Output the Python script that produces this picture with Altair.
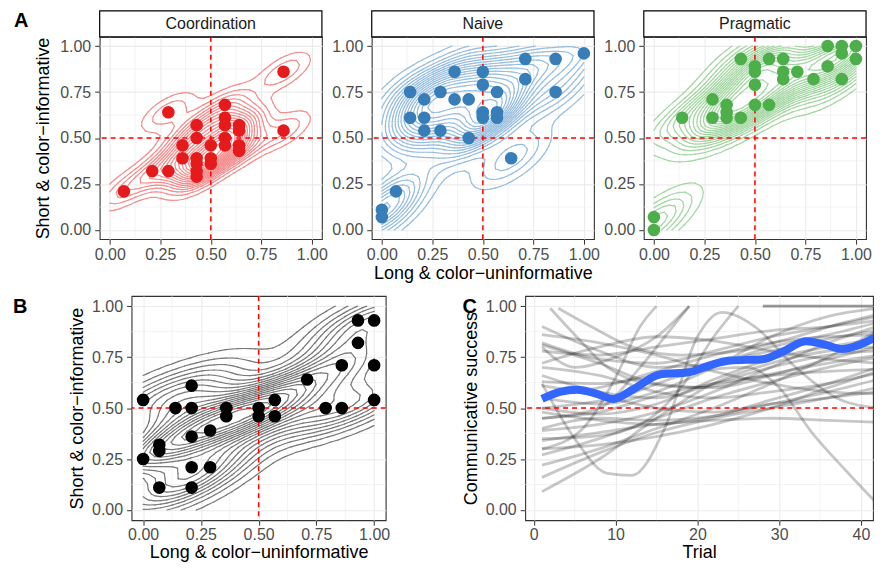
import numpy as np
import pandas as pd
import altair as alt

FONT = "Liberation Sans"
TICKS01 = [0, 0.25, 0.5, 0.75, 1.0]
MINOR01 = [0.125, 0.375, 0.625, 0.875]
TICKS_TRIAL = [0, 10, 20, 30, 40]
MINOR_TRIAL = [5, 15, 25, 35]

# ---------------- Panel A: per-condition points ----------------
coord_x = [0.07, 0.21, 0.29, 0.29, 0.36, 0.36, 0.43, 0.43, 0.43, 0.43, 0.43, 0.43, 0.50, 0.50, 0.50,
           0.57, 0.57, 0.57, 0.57, 0.57, 0.64, 0.64, 0.64, 0.64, 0.86, 0.86]
coord_y = [0.21, 0.32, 0.32, 0.64, 0.46, 0.39, 0.57, 0.50, 0.39, 0.36, 0.32, 0.29, 0.46, 0.39, 0.36,
           0.68, 0.61, 0.57, 0.50, 0.46, 0.57, 0.54, 0.46, 0.43, 0.86, 0.54]

naive_x = [0.00, 0.00, 0.07, 0.14, 0.14, 0.21, 0.21, 0.21, 0.29, 0.29, 0.36, 0.36, 0.43, 0.43, 0.50,
           0.50, 0.50, 0.50, 0.57, 0.57, 0.57, 0.64, 0.71, 0.71, 0.86, 0.86, 1.00]
naive_y = [0.11, 0.07, 0.21, 0.75, 0.61, 0.71, 0.61, 0.54, 0.75, 0.54, 0.86, 0.71, 0.71, 0.50, 0.86,
           0.79, 0.64, 0.61, 0.75, 0.64, 0.61, 0.39, 0.93, 0.82, 0.93, 0.75, 0.96]

prag_x = [0.00, 0.00, 0.14, 0.29, 0.29, 0.36, 0.36, 0.36, 0.43, 0.43, 0.50, 0.50, 0.50, 0.50, 0.57,
          0.57, 0.64, 0.64, 0.64, 0.71, 0.79, 0.86, 0.86, 0.93, 0.93, 0.93, 1.00, 1.00]
prag_y = [0.07, 0.00, 0.61, 0.71, 0.61, 0.68, 0.64, 0.61, 0.61, 0.93, 0.89, 0.86, 0.79, 0.68, 0.93,
          0.68, 0.93, 0.86, 0.82, 0.86, 0.82, 1.00, 0.89, 1.00, 0.96, 0.82, 1.00, 0.93]

# ---------------- Panel B: pooled points ----------------
b_x = [0.00, 0.00, 0.07, 0.07, 0.07, 0.14, 0.21, 0.21, 0.21, 0.21, 0.21, 0.29, 0.29, 0.36, 0.36,
       0.50, 0.50, 0.57, 0.57, 0.71, 0.79, 0.86, 0.86, 0.93, 0.93, 1.00, 1.00, 1.00]
b_y = [0.54, 0.25, 0.32, 0.29, 0.11, 0.50, 0.61, 0.50, 0.36, 0.21, 0.11, 0.39, 0.21, 0.50, 0.46,
       0.50, 0.46, 0.54, 0.46, 0.64, 0.50, 0.50, 0.71, 0.93, 0.82, 0.93, 0.71, 0.54]

# ---------------- Panel C: per-pair smooths and overall smooth ----------------
T7 = [1, 8, 15, 22, 29, 36, 42]
grey_lines = [
    (T7, [0.90, 0.78, 0.70, 0.72, 0.80, 0.86, 0.92]),
    (T7, [0.82, 0.74, 0.72, 0.78, 0.85, 0.90, 0.95]),
    (T7, [0.81, 0.72, 0.62, 0.60, 0.66, 0.74, 0.80]),
    (T7, [0.78, 0.76, 0.80, 0.84, 0.88, 0.90, 0.93]),
    (T7, [0.70, 0.66, 0.58, 0.55, 0.58, 0.62, 0.67]),
    (T7, [0.63, 0.62, 0.66, 0.72, 0.78, 0.84, 0.88]),
    (T7, [0.61, 0.56, 0.50, 0.48, 0.52, 0.55, 0.58]),
    (T7, [0.56, 0.60, 0.68, 0.76, 0.82, 0.85, 0.86]),
    (T7, [0.45, 0.48, 0.56, 0.62, 0.66, 0.68, 0.69]),
    (T7, [0.40, 0.45, 0.44, 0.46, 0.52, 0.58, 0.64]),
    (T7, [0.39, 0.42, 0.48, 0.58, 0.70, 0.82, 0.90]),
    (T7, [0.34, 0.38, 0.42, 0.44, 0.45, 0.44, 0.43]),
    (T7, [0.27, 0.35, 0.45, 0.55, 0.63, 0.70, 0.75]),
    (T7, [0.22, 0.30, 0.40, 0.50, 0.62, 0.75, 0.88]),
    (T7, [0.16, 0.28, 0.38, 0.45, 0.50, 0.55, 0.60]),
    (T7, [0.09, 0.25, 0.45, 0.62, 0.72, 0.78, 0.80]),
    (T7, [0.55, 0.52, 0.58, 0.70, 0.85, 0.95, 0.99]),
    (T7, [0.72, 0.80, 0.85, 0.83, 0.78, 0.74, 0.72]),
    (T7, [0.48, 0.44, 0.42, 0.46, 0.54, 0.62, 0.70]),
    (T7, [0.30, 0.32, 0.36, 0.42, 0.50, 0.60, 0.68]),
    (T7, [0.86, 0.82, 0.76, 0.68, 0.62, 0.58, 0.57]),
    (T7, [0.50, 0.47, 0.52, 0.64, 0.74, 0.80, 0.84]),
    (T7, [0.66, 0.58, 0.55, 0.62, 0.70, 0.76, 0.78]),
    ([1, 5, 9, 12, 16, 20, 23, 27, 32, 37, 42], [0.62, 0.35, 0.18, 0.17, 0.40, 0.85, 0.97, 0.90, 0.70, 0.55, 0.50]),
    ([1, 10, 20, 26, 30, 34, 38, 42], [0.50, 0.55, 0.68, 0.70, 0.60, 0.38, 0.20, 0.03]),
    ([2, 5, 9, 14, 20, 28, 36, 42], [0.99, 0.86, 0.70, 0.62, 0.60, 0.66, 0.72, 0.76]),
    ([3, 7, 12, 18, 25, 32, 38, 42], [0.99, 0.90, 0.80, 0.76, 0.78, 0.85, 0.92, 0.96]),
    ([1, 6, 10, 13, 15], [0.30, 0.40, 0.65, 0.90, 1.00]),
    ([1, 8, 13, 17, 19], [0.45, 0.50, 0.70, 0.90, 1.00]),
    ([1, 5, 10, 15, 19], [0.80, 0.70, 0.75, 0.85, 1.00]),
    ([1, 7, 13, 18, 22, 25], [0.35, 0.36, 0.42, 0.60, 0.85, 1.00]),
    ([28, 35, 42], [1.00, 1.00, 1.00]),
    ([28, 35, 42], [1.00, 1.00, 1.00]),
]
blue_trial = [1, 3.2, 5.3, 7.7, 9.7, 12.2, 15.4, 19, 21.5, 24, 28, 30.4, 33.3, 35.7, 37.7, 39.8, 42]
blue_value = [0.545, 0.58, 0.59, 0.57, 0.545, 0.593, 0.665, 0.676, 0.71, 0.733, 0.74, 0.776, 0.828,
              0.81, 0.79, 0.81, 0.852]


# ---------------- helpers ----------------
def density(xs, ys, n=40, factor=0.5):
    """Gaussian KDE with a full bandwidth matrix proportional to the data covariance."""
    g = np.linspace(0, 1, n)
    pts = np.vstack([np.asarray(xs, float), np.asarray(ys, float)])
    cov = np.cov(pts) * factor ** 2
    inv = np.linalg.inv(cov)
    GX, GY = np.meshgrid(g, g)
    dx = GX[..., None] - pts[0][None, None, :]
    dy = GY[..., None] - pts[1][None, None, :]
    q = inv[0, 0] * dx * dx + 2 * inv[0, 1] * dx * dy + inv[1, 1] * dy * dy
    Z = np.exp(-0.5 * q).sum(axis=-1)
    return g, g, Z


def contour_segments(gx, gy, Z, levels):
    rows = []
    ny, nx = Z.shape
    for L in levels:
        for j in range(ny - 1):
            for i in range(nx - 1):
                c = [Z[j, i], Z[j, i + 1], Z[j + 1, i + 1], Z[j + 1, i]]
                s = [v >= L for v in c]
                if all(s) or not any(s):
                    continue
                corners = [(gx[i], gy[j]), (gx[i + 1], gy[j]), (gx[i + 1], gy[j + 1]), (gx[i], gy[j + 1])]
                pts = {}
                for e in range(4):
                    a, b = e, (e + 1) % 4
                    if s[a] != s[b]:
                        t = (L - c[a]) / (c[b] - c[a])
                        pts[e] = (corners[a][0] + t * (corners[b][0] - corners[a][0]),
                                  corners[a][1] + t * (corners[b][1] - corners[a][1]))
                keys = sorted(pts)
                if len(keys) == 2:
                    pairs = [(keys[0], keys[1])]
                else:
                    center = sum(c) / 4
                    if (center >= L) == s[0]:
                        pairs = [(0, 1), (2, 3)]
                    else:
                        pairs = [(3, 0), (1, 2)]
                for a, b in pairs:
                    rows.append((round(pts[a][0], 4), round(pts[a][1], 4),
                                 round(pts[b][0], 4), round(pts[b][1], 4)))
    return pd.DataFrame(rows, columns=["x", "y", "x2", "y2"])


def make_axis(title, values, fmt, label_pad=1, title_pad=1):
    return alt.Axis(title=title, values=values, format=fmt, grid=True, gridColor="#EBEBEB", gridWidth=1.1,
                    domain=False, ticks=True, tickColor="#333333", tickSize=5, tickWidth=1,
                    labelColor="#4D4D4D", labelFontSize=16, labelFont=FONT, labelPadding=label_pad,
                    labelFlush=False, labelOverlap=False, titleFont=FONT, titleFontSize=18,
                    titleFontWeight="normal", titleColor="black", titlePadding=title_pad)


def letter_layer(letter, lx, ly):
    return alt.Chart(pd.DataFrame({"t": [letter]})).mark_text(
        font=FONT, fontSize=20, fontWeight="bold", align="left", baseline="top", color="black"
    ).encode(x=alt.value(lx), y=alt.value(ly), text="t:N")


def scatter_panel(xs, ys, pt_color, ct_color, w, h, xtitle, ytitle, strip=None, letter=None,
                  x_label_pad=2, x_title_pad=2, y_title_pad=5, factor=0.5):
    X = alt.X("x:Q", scale=alt.Scale(domain=[-0.05, 1.05], nice=False, zero=False),
              axis=make_axis(xtitle, TICKS01, ".2f", label_pad=x_label_pad, title_pad=x_title_pad))
    Y = alt.Y("y:Q", scale=alt.Scale(domain=[-0.05, 1.05], nice=False, zero=False),
              axis=make_axis(ytitle, TICKS01, ".2f", label_pad=4, title_pad=y_title_pad))
    gx, gy, Z = density(xs, ys, factor=factor)
    levels = Z.max() * np.linspace(0.05, 0.95, 18)
    segs = contour_segments(gx, gy, Z, levels)
    layers = [
        alt.Chart(pd.DataFrame({"x": MINOR01})).mark_rule(color="#EBEBEB", strokeWidth=0.6).encode(x=X),
        alt.Chart(pd.DataFrame({"y": MINOR01})).mark_rule(color="#EBEBEB", strokeWidth=0.6).encode(y=Y),
        alt.Chart(segs).mark_rule(color=ct_color, strokeWidth=1.2, strokeCap="round").encode(
            x=X, y=Y, x2="x2:Q", y2="y2:Q"),
        alt.Chart(pd.DataFrame({"x": [0.5]})).mark_rule(color="#FF0000", strokeDash=[5, 4], strokeWidth=1.5).encode(x=X),
        alt.Chart(pd.DataFrame({"y": [0.5]})).mark_rule(color="#FF0000", strokeDash=[5, 4], strokeWidth=1.5).encode(y=Y),
        alt.Chart(pd.DataFrame({"x": xs, "y": ys})).mark_circle(size=160, opacity=1, color=pt_color).encode(x=X, y=Y),
    ]
    if strip is not None:
        sd = pd.DataFrame({"label": [strip]})
        layers.append(alt.Chart(sd).mark_rect(fill="white", stroke="black", strokeWidth=1.2).encode(
            x=alt.value(0), x2=alt.value(w), y=alt.value(-26), y2=alt.value(0)))
        layers.append(alt.Chart(sd).mark_text(font=FONT, fontSize=16, color="#1A1A1A", align="center",
                                              baseline="middle").encode(
            x=alt.value(w / 2), y=alt.value(-13), text="label:N"))
    if letter is not None:
        layers.append(letter_layer(*letter))
    return alt.layer(*layers).properties(width=w, height=h)


# ---------------- build panels ----------------
A_W, A_H = 223, 203
B_W, B_H = 255, 225
C_W = 349
XT = "Long & color\u2212uninformative"
YT = "Short & color\u2212informative"

a1 = scatter_panel(coord_x, coord_y, "#E41A1C", "#F28E8E", A_W, A_H, None, YT,
                   strip="Coordination", letter=("A", -86, -25.5), y_title_pad=7)
a2 = scatter_panel(naive_x, naive_y, "#377EB8", "#97BEE0", A_W, A_H, XT, None, strip="Naive", factor=0.45)
a3 = scatter_panel(prag_x, prag_y, "#4DAF4A", "#A3D6A2", A_W, A_H, None, None, strip="Pragmatic",
                   factor=0.45)

b = scatter_panel(b_x, b_y, "#000000", "#7A7A7A", B_W, B_H, XT, YT, letter=("B", -119, 1.5),
                  x_label_pad=1, x_title_pad=1, y_title_pad=5)

# Panel C
grey_rows = []
for k, (tr, vals) in enumerate(grey_lines):
    for t, v in zip(tr, vals):
        grey_rows.append({"trial": t, "value": v, "pair": k})
grey_df = pd.DataFrame(grey_rows)
blue_df = pd.DataFrame({"trial": blue_trial, "value": blue_value})

CX = alt.X("trial:Q", scale=alt.Scale(domain=[-1.05, 41.47], nice=False, zero=False),
           axis=make_axis("Trial", TICKS_TRIAL, "d", label_pad=1, title_pad=1))
CY = alt.Y("value:Q", scale=alt.Scale(domain=[-0.05, 1.05], nice=False, zero=False),
           axis=make_axis("Communicative success", TICKS01, ".2f", label_pad=4, title_pad=5))

c = alt.layer(
    alt.Chart(pd.DataFrame({"trial": MINOR_TRIAL})).mark_rule(color="#EBEBEB", strokeWidth=0.6).encode(x=CX),
    alt.Chart(pd.DataFrame({"value": MINOR01})).mark_rule(color="#EBEBEB", strokeWidth=0.6).encode(y=CY),
    alt.Chart(grey_df).mark_line(color="black", opacity=0.22, strokeWidth=2.8, interpolate="monotone",
                                 clip=True).encode(x=CX, y=CY, detail="pair:N"),
    alt.Chart(pd.DataFrame({"value": [0.5]})).mark_rule(color="#FF0000", strokeDash=[5, 4],
                                                       strokeWidth=1.5).encode(y=CY),
    alt.Chart(blue_df).mark_line(color="#3366FF", strokeWidth=8, interpolate="monotone",
                                 clip=True).encode(x=CX, y=CY),
    letter_layer("C", -63, 1.5),
).properties(width=C_W, height=B_H)

spacer = alt.Chart(pd.DataFrame({"a": [0]})).mark_point(opacity=0).properties(
    width=32, height=10, view=alt.ViewBackground(stroke="transparent"))

top = alt.hconcat(a1, a2, a3, spacing=50, bounds="flush")
bottom = alt.hconcat(spacer, alt.hconcat(b, c, spacing=140, bounds="flush"), spacing=0, bounds="flush")
chart = alt.vconcat(top, bottom, spacing=11).properties(
    padding={"left": 4, "top": 0, "right": 0, "bottom": 0}
).configure_view(stroke="#333333", strokeWidth=1.1)

chart.save("out.html", embed_options={"renderer": "svg", "actions": False})
